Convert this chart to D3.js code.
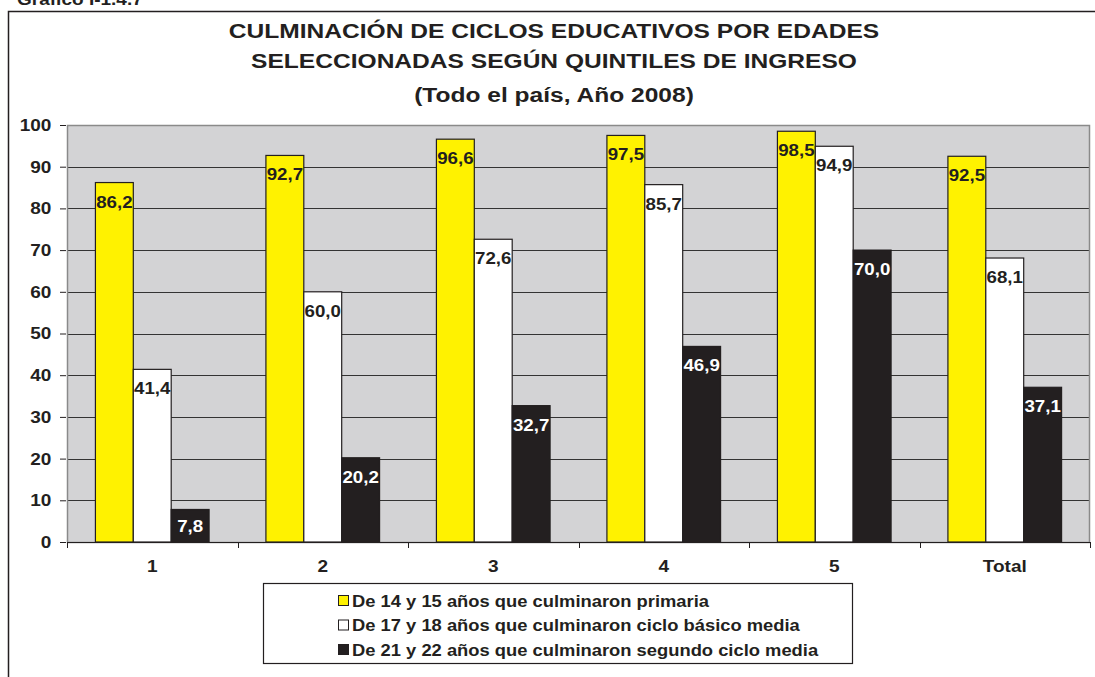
<!DOCTYPE html>
<meta charset="utf-8">
<style>
  body { margin: 0; background: #fff; }
  text { font-family: "Liberation Sans", Arial, sans-serif; font-weight: bold; fill: #231f20; }
</style>
<body>
<script src="https://d3js.org/d3.v7.min.js"></script>
<script>

// Categories (quintiles) and the three series
var categories = ["1", "2", "3", "4", "5", "Total"];
var seriesNames = [
  "De 14 y 15 años que culminaron primaria",
  "De 17 y 18 años que culminaron ciclo básico media",
  "De 21 y 22 años que culminaron segundo ciclo media"
];
var primaria = [86.2, 92.7, 96.6, 97.5, 98.5, 92.5];
var basico   = [41.4, 60.0, 72.6, 85.7, 94.9, 68.1];
var segundo  = [7.8, 20.2, 32.7, 46.9, 70.0, 37.1];
var yTicks = [0, 10, 20, 30, 40, 50, 60, 70, 80, 90, 100];

var series = [primaria, basico, segundo];
var colors = ["#fff200", "#ffffff", "#231f20"];
var labelColors = ["#231f20", "#231f20", "#ffffff"];

var W = 1095, H = 677;
var margin = {top: 125, right: 5, bottom: 135, left: 67},
    width = W - margin.left - margin.right,
    height = H - margin.top - margin.bottom;

// the original text is a little wider than Arial, so stretch it horizontally
function stretched(sel, x, y, sx) {
  return sel.attr("x", 0).attr("y", 0)
    .attr("transform", "translate(" + x + "," + y + ") scale(" + sx + ",1)");
}

var svg = d3.select("body").append("svg")
    .attr("width", W)
    .attr("height", H);

// caption above the frame (cut off at the top, as in the original)
stretched(svg.append("text"), 17, 5, 1.12)
    .style("font-size", "17px")
    .text("Gráfico I-1.4.7");

// outer frame
svg.append("rect")
    .attr("x", 8.5).attr("y", 11.5)
    .attr("width", W + 20).attr("height", H + 20)
    .attr("fill", "none")
    .attr("stroke", "#231f20")
    .attr("stroke-width", 1.5);

// title
var titleLines = [
  "CULMINACIÓN DE CICLOS EDUCATIVOS POR EDADES",
  "SELECCIONADAS SEGÚN QUINTILES DE INGRESO",
  "(Todo el país, Año 2008)"
];
var titleY = [38, 68, 102];
svg.append("g").selectAll("text")
    .data(titleLines)
  .enter().append("text")
    .each(function(d, i) { stretched(d3.select(this), 554, titleY[i], 1.17); })
    .attr("text-anchor", "middle")
    .style("font-size", "21px")
    .text(function(d) { return d; });

var g = svg.append("g")
    .attr("transform", "translate(" + margin.left + "," + margin.top + ")");

var x0 = d3.scaleBand().domain(categories).range([0, width]).padding(0);
var x1 = d3.scaleBand().domain([0, 1, 2]).range([0, x0.bandwidth()])
    .paddingInner(0).paddingOuter(0.75);
var y = d3.scaleLinear().domain([0, 100]).range([height, 0]);

// plot background
g.append("rect")
    .attr("width", width).attr("height", height)
    .attr("fill", "#d3d3d5");

// gridlines
g.append("g").selectAll("line")
    .data(yTicks.filter(function(d) { return d > 0; }))
  .enter().append("line")
    .attr("x1", 0).attr("x2", width)
    .attr("y1", function(d) { return Math.round(y(d)) + 0.5; })
    .attr("y2", function(d) { return Math.round(y(d)) + 0.5; })
    .attr("stroke", "#333")
    .attr("stroke-width", 1);

// plot border
g.append("rect")
    .attr("x", 0.5).attr("y", 0.5)
    .attr("width", width - 1).attr("height", height)
    .attr("fill", "none")
    .attr("stroke", "#8a8a8a")
    .attr("stroke-width", 1.5);

// bars
var groups = g.selectAll(".grp")
    .data(categories)
  .enter().append("g")
    .attr("class", "grp")
    .attr("transform", function(d) { return "translate(" + x0(d) + ",0)"; });

groups.selectAll("rect")
    .data(function(d, ci) { return series.map(function(s, si) { return {si: si, v: s[ci]}; }); })
  .enter().append("rect")
    .attr("x", function(d) { return x1(d.si); })
    .attr("width", x1.bandwidth())
    .attr("y", function(d) { return y(d.v); })
    .attr("height", function(d) { return height - y(d.v); })
    .attr("fill", function(d) { return colors[d.si]; })
    .attr("stroke", "#231f20")
    .attr("stroke-width", 1.2);

// value labels
var fmt = function(v) { return v.toFixed(1).replace(".", ","); };
groups.selectAll(".lbl")
    .data(function(d, ci) { return series.map(function(s, si) { return {si: si, v: s[ci]}; }); })
  .enter().append("text")
    .attr("class", "lbl")
    .each(function(d) {
      var top = y(d.v), h = height - top;
      var ty = h < 40 ? top + h / 2 + 6 : top + 25;
      stretched(d3.select(this), x1(d.si) + x1.bandwidth() / 2, ty, 1.1);
    })
    .attr("text-anchor", "middle")
    .style("font-size", "17px")
    .style("fill", function(d) { return labelColors[d.si]; })
    .text(function(d) { return fmt(d.v); });

// y axis
var yAxis = g.append("g")
    .attr("transform", "translate(-1,0)")
    .call(d3.axisLeft(y).tickValues(yTicks).tickSize(6).tickPadding(7));
yAxis.select(".domain").remove();
yAxis.selectAll("line").attr("stroke", "#231f20");
yAxis.selectAll("text")
    .attr("transform", "scale(1.12,1)")
    .style("font-size", "17px")
    .style("font-family", "Liberation Sans, Arial, sans-serif")
    .attr("fill", "#231f20");

// x axis
var xAxis = g.append("g")
    .attr("transform", "translate(0," + height + ")")
    .call(d3.axisBottom(x0).tickSize(0).tickPadding(18));
xAxis.select(".domain").attr("stroke", "#231f20");
xAxis.selectAll("text")
    .attr("transform", "scale(1.12,1)")
    .style("font-size", "17px")
    .style("font-family", "Liberation Sans, Arial, sans-serif")
    .attr("fill", "#231f20");
xAxis.selectAll(".sep")
    .data(categories.concat(["end"]))
  .enter().append("line")
    .attr("class", "sep")
    .attr("x1", function(d, i) { return Math.round(i * x0.step()) + 0.5; })
    .attr("x2", function(d, i) { return Math.round(i * x0.step()) + 0.5; })
    .attr("y1", 0).attr("y2", 6)
    .attr("stroke", "#231f20");

// legend
var legend = svg.append("g").attr("transform", "translate(263,583)");
legend.append("rect")
    .attr("x", 0.5).attr("y", 0.5)
    .attr("width", 589).attr("height", 80)
    .attr("fill", "#fff")
    .attr("stroke", "#231f20")
    .attr("stroke-width", 1.2);
var items = legend.selectAll(".item")
    .data(seriesNames)
  .enter().append("g")
    .attr("class", "item")
    .attr("transform", function(d, i) { return "translate(75," + (12 + i * 24.5) + ")"; });
items.append("rect")
    .attr("x", 0.5).attr("y", 0.5)
    .attr("width", 10).attr("height", 10)
    .attr("fill", function(d, i) { return colors[i]; })
    .attr("stroke", "#231f20")
    .attr("stroke-width", 1);
items.append("text")
    .each(function() { stretched(d3.select(this), 14, 11.5, 1.08); })
    .style("font-size", "17px")
    .text(function(d) { return d; });

</script>
</body>
